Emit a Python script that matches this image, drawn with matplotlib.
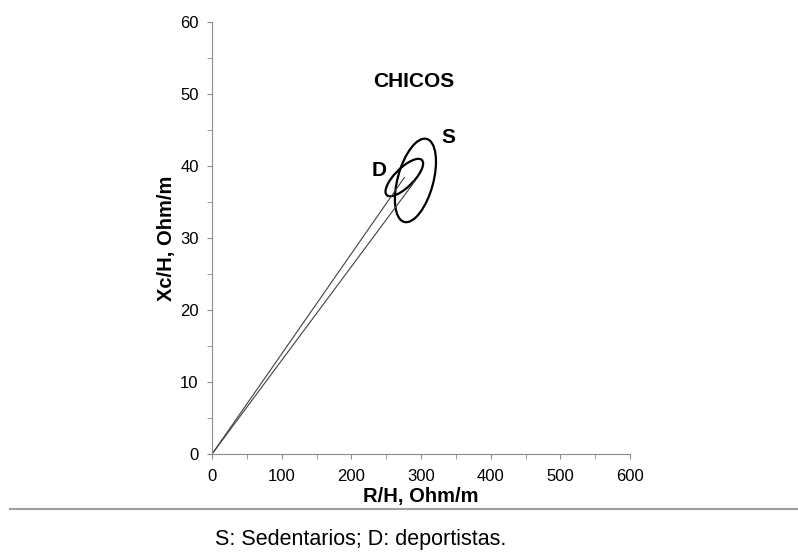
import matplotlib
matplotlib.use('Agg')
import matplotlib.pyplot as plt
from matplotlib.patches import Ellipse
from matplotlib.lines import Line2D
import numpy as np

plt.rcParams['font.family'] = ['Liberation Sans', 'DejaVu Sans']

# groups: S = sedentarios, D = deportistas
groups = ['S', 'D']
mean_r = [292.0, 276.0]      # R/H, Ohm/m
mean_xc = [38.0, 38.4]       # Xc/H, Ohm/m
half_r = [29.5, 27.0]        # half extent of ellipse along R/H
half_xc = [5.8, 2.6]         # half extent along Xc/H
corr = [0.45, 0.75]
label_x = [339, 240]
label_y = [44.0, 39.4]

xticks = [0, 100, 200, 300, 400, 500, 600]
yticks = [0, 10, 20, 30, 40, 50, 60]

grey = '#8c8c8c'

fig = plt.figure(figsize=(7.98, 5.59), dpi=100)
ax = fig.add_axes([0.2657, 0.1878, 0.5238, 0.7728])

for i in range(len(groups)):
    # vector from origin to mean
    ax.plot([0, mean_r[i]], [0, mean_xc[i]], color='#404040', lw=0.8)
    cov = np.array([[half_r[i]**2, corr[i]*half_r[i]*half_xc[i]],
                    [corr[i]*half_r[i]*half_xc[i], half_xc[i]**2]])
    vals, vecs = np.linalg.eigh(cov)
    ang = np.degrees(np.arctan2(vecs[1, 1], vecs[0, 1]))
    e = Ellipse((mean_r[i], mean_xc[i]), 2*np.sqrt(vals[1]), 2*np.sqrt(vals[0]),
                angle=ang, fill=False, ec='black', lw=1.6)
    ax.add_patch(e)
    ax.text(label_x[i], label_y[i], groups[i], fontsize=15, fontweight='bold',
            ha='center', va='center')

ax.text(290, 51.8, 'CHICOS', fontsize=15, fontweight='bold', ha='center', va='center')

ax.set_xlim(0, 600)
ax.set_ylim(0, 60)
ax.set_xticks(xticks)
ax.set_yticks(yticks)
ax.set_xticks(np.arange(50, 600, 100), minor=True)
ax.set_yticks(np.arange(5, 60, 10), minor=True)
ax.tick_params(which='both', direction='out', length=3.6, color=grey, labelsize=12)
ax.tick_params(axis='x', pad=7)
ax.tick_params(axis='y', pad=6)
for s in ['top', 'right']:
    ax.spines[s].set_visible(False)
for s in ['left', 'bottom']:
    ax.spines[s].set_color(grey)
ax.set_xlabel('R/H, Ohm/m', fontsize=14.5, fontweight='bold', labelpad=2)
ax.set_ylabel('Xc/H, Ohm/m', fontsize=14.5, fontweight='bold', labelpad=3)

fig.add_artist(Line2D([0.0125, 1.0], [0.0894, 0.0894], color='#a0a0a0', lw=1.5,
                      transform=fig.transFigure))
fig.text(0.269, 0.034, 'S: Sedentarios; D: deportistas.', fontsize=15.5, va='center', ha='left')

fig.savefig('out.png', dpi=100)
